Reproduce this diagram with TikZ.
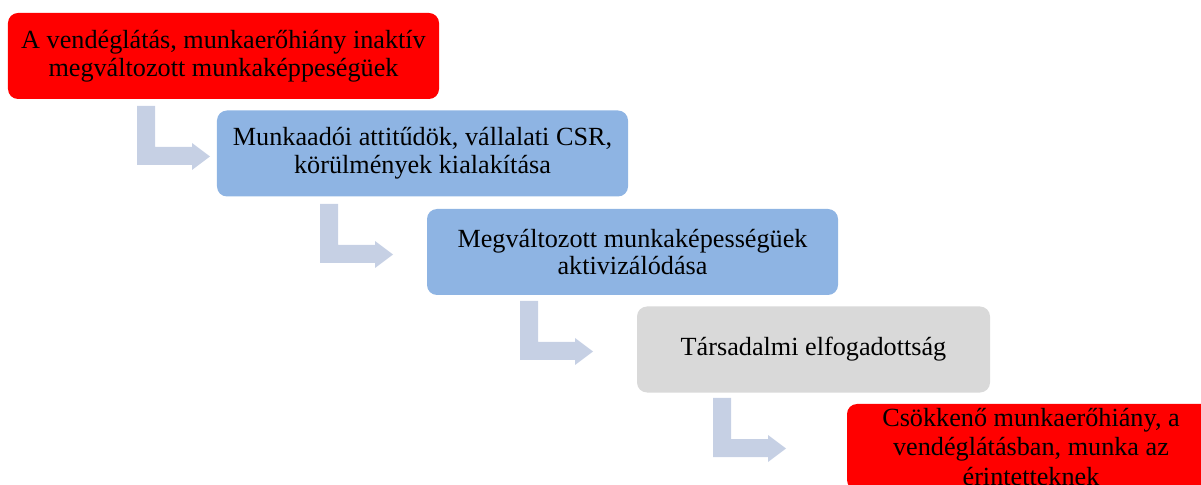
\documentclass[tikz,border=0pt]{standalone}
\usepackage{fontspec}
\setmainfont{Liberation Serif}
\usepackage{tikz}
\definecolor{stepred}{HTML}{FF0000}
\definecolor{stepblue}{HTML}{8EB4E3}
\definecolor{stepgray}{HTML}{D9D9D9}
\definecolor{bentgray}{HTML}{C6D0E4}
\tikzstyle{stepbox}=[rounded corners=10bp, inner sep=0pt, align=center, minimum height=86bp, font=\fontsize{26.3}{28}\selectfont]
\tikzstyle{bent}=[fill=bentgray, draw=none]

\begin{document}
\begin{tikzpicture}
        [x=1bp,y=-1bp]
            \useasboundingbox (0,0) rectangle (1201,485);
            % bent arrows
            \foreach \ax/\ay in {137/106, 320/204, 520/301, 713/398}
                \fill [bent] (\ax,\ay) -- ++(18,0) -- ++(0,41) -- ++(37,0) -- ++(0,-4) -- ++(18,13.5) -- ++(-18,13.5) -- ++(0,-5) -- ++(-55,0) -- cycle ;
            \node [stepbox, fill=stepred, minimum width=431bp] (cause) at (223.5,56) {A vendéglátás, munkaerőhiány inaktív\\megváltozott munkaképpeségüek} ;
            \node [stepbox, fill=stepblue, minimum width=411bp] (employer) at (422.5,153.5) {Munkaadói attitűdök, vállalati CSR,\\körülmények kialakítása} ;
            \node [stepbox, fill=stepblue, minimum width=411bp] (active) at (632.5,252) {Megváltozott munkaképességüek\\aktivizálódása} ;
            \node [stepbox, fill=stepgray, minimum width=353bp] (accept) at (813.5,349.5) {Társadalmi elfogadottság} ;
            \node [stepbox, fill=stepred, minimum width=368bp] (result) at (1031,447) {} ;
            \node [font=\fontsize{26.3}{29.5}\selectfont, align=center, inner sep=0pt] (resulttext) at (result.center) {Csökkenő munkaerőhiány, a\\vendéglátásban, munka az\\érintetteknek} ;
        \end{tikzpicture}
\end{document}
